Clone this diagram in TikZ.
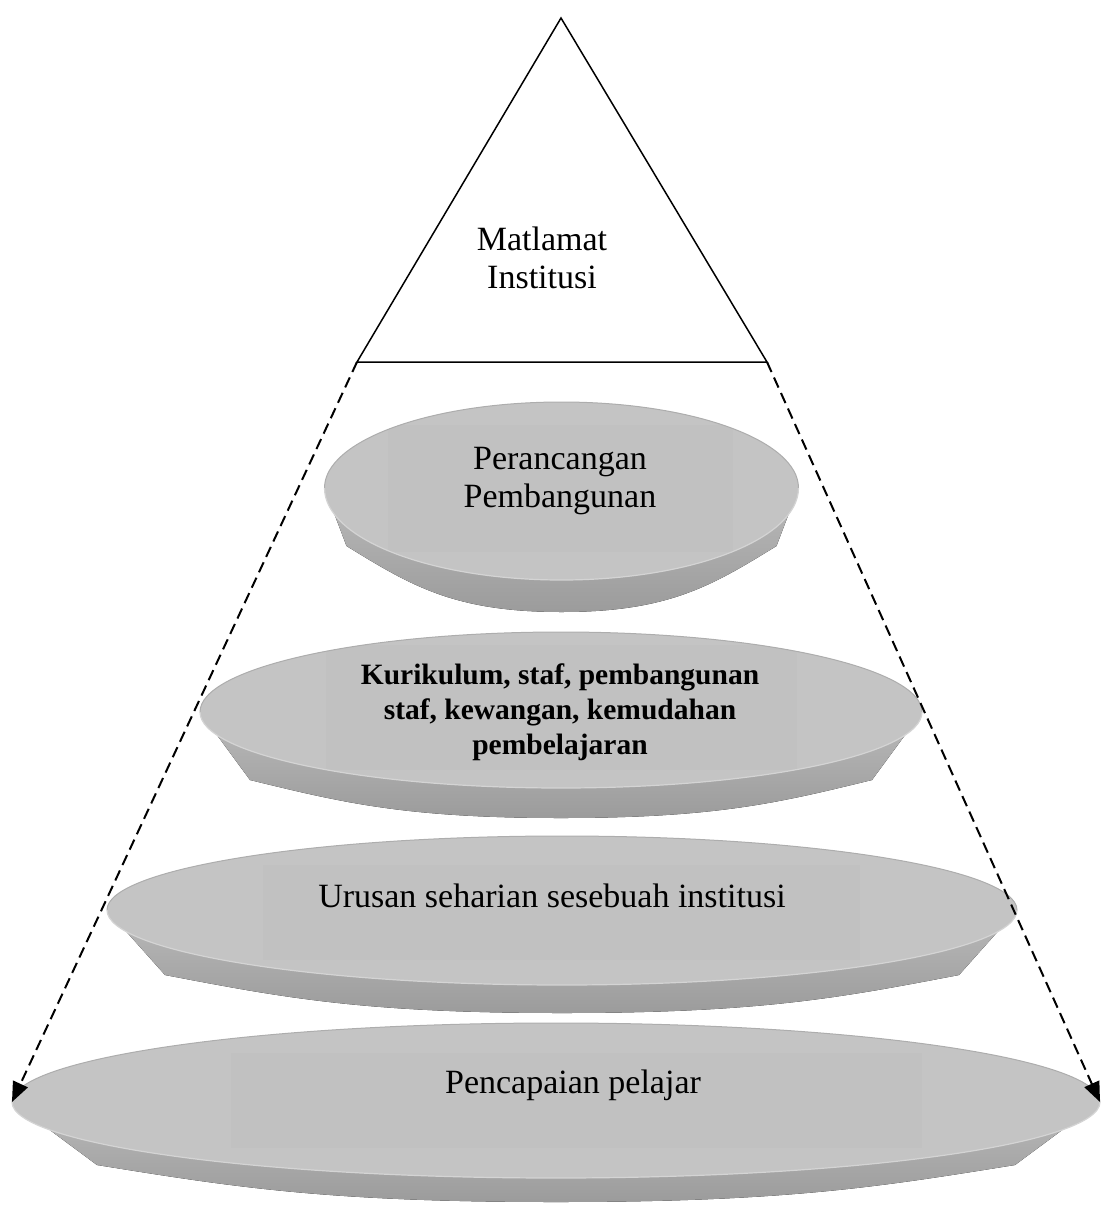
\documentclass[tikz,border=0pt]{standalone}
\usepackage{fontspec}
\setmainfont{Liberation Serif}
\usetikzlibrary{arrows.meta}
\tikzset{
  facefill/.style={fill=black!23},
  sidefill/.style={top color=black!27, bottom color=black!39},
  boxfill/.style={fill=black!24.5},
  labelreg/.style={font=\fontsize{34}{38}\selectfont, align=center, inner sep=0pt},
  labelbold/.style={font=\fontsize{29.5}{35}\selectfont\bfseries, align=center, inner sep=0pt},
  guide/.style={dash pattern=on 11pt off 6pt, line width=2pt, -{Triangle[length=20pt,width=16pt]}},
  tri/.style={draw=black, line width=1.5pt},
}
% cx cy rx ryu ryl inset drop bottom  box
\newcommand{\platter}[9]{%
  \fill[sidefill] ({#1-#3},#2) -- ({#1-#3+#6},{#2+#7})
     .. controls ({#1-#3+#6+0.3*(#3-#6)},{#2+#7+0.6*(#8-#2-#7)}) and ({#1-0.5*(#3-#6)},#8) .. (#1,#8)
     .. controls ({#1+0.5*(#3-#6)},#8) and ({#1+#3-#6-0.3*(#3-#6)},{#2+#7+0.6*(#8-#2-#7)}) .. ({#1+#3-#6},{#2+#7})
     -- ({#1+#3},#2) -- cycle;
  \begin{scope}
    \clip ({#1-#3},#2) arc[start angle=180,end angle=360,x radius=#3,y radius=#4]
       arc[start angle=0,end angle=180,x radius=#3,y radius=#5] -- cycle;
    \fill[facefill] ({#1-#3},{#2-#4}) rectangle ({#1+#3},{#2+#5});
    \fill[boxfill] #9;
  \end{scope}
  \draw[black!32, line width=1pt] ({#1-#3},#2) arc[start angle=180,end angle=360,x radius=#3,y radius=#4];
  \draw[black!17, line width=1.2pt] ({#1+#3},#2) arc[start angle=0,end angle=180,x radius=#3,y radius=#5];
}
\begin{document}
\begin{tikzpicture}[x=1pt,y=-1pt]
\useasboundingbox (0,0) rectangle (1101,1205);

% discs with their faint text boxes
\platter{561.5}{488}{237}{86}{92}{22}{58}{612}{(388,425) rectangle (733,552)}
\platter{561}{712}{361}{80}{76}{50}{68}{818}{(326,645) rectangle (797,770)}
\platter{562}{910}{455}{74}{75}{58}{65}{1013}{(263,865) rectangle (860,960)}
\platter{556}{1102}{544}{79}{76}{85}{63}{1202}{(231,1053) rectangle (922,1148)}

% triangle
\coordinate (apex) at (561,18);
\coordinate (bl) at (357,362);
\coordinate (br) at (767,362);
\draw[tri, line join=miter] (apex) -- (br) -- (bl) -- cycle;

% dashed guides
\coordinate (tipL) at (12,1102);
\coordinate (tipR) at (1100,1102);
\draw[guide] (bl) -- (tipL);
\draw[guide] (br) -- (tipR);

% labels
\node[labelreg] (goal) at (542,258) {Matlamat\\Institusi};
\node[labelreg] (plan) at (560,481) {Perancangan\\Pembangunan};
\node[labelbold] (res) at (560,712) {Kurikulum, staf, pembangunan\\staf, kewangan, kemudahan\\pembelajaran};
\node[labelreg] (ops) at (552,896) {Urusan seharian sesebuah institusi};
\node[labelreg] (ach) at (573,1085) {Pencapaian pelajar};
\end{tikzpicture}
\end{document}
